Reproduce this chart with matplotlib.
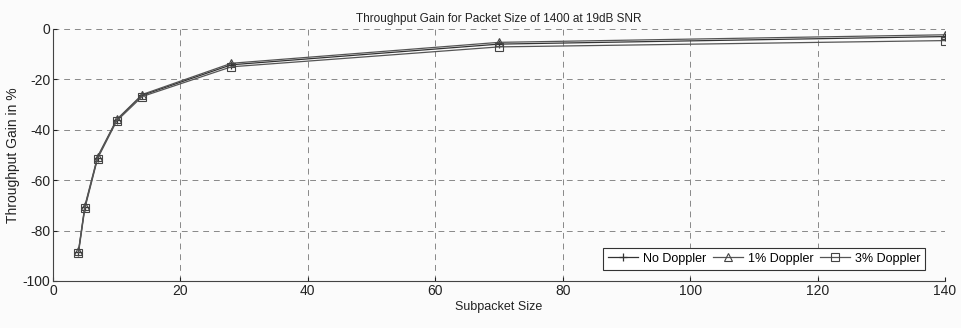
import matplotlib
matplotlib.use("Agg")
import matplotlib.pyplot as plt

plt.rcParams['font.family'] = ['Liberation Sans', 'DejaVu Sans']
plt.rcParams['axes.unicode_minus'] = False

subpacket = [4, 5, 7, 10, 14, 28, 70, 140]
no_doppler = [-88.3, -70.6, -51.0, -36.0, -26.3, -14.2, -6.0, -3.0]
doppler_1 = [-88.0, -70.2, -50.6, -35.9, -26.0, -13.6, -5.3, -2.3]
doppler_3 = [-88.9, -71.2, -51.4, -36.5, -26.8, -15.0, -7.1, -4.6]

title = "Throughput Gain for Packet Size of 1400 at 19dB SNR"
xlabel = "Subpacket Size"
ylabel = "Throughput Gain in %"
labels = ["No Doppler", "1% Doppler", "3% Doppler"]

fig = plt.figure(figsize=(9.62, 3.28), dpi=100, facecolor='#fbfbfb')
ax = fig.add_axes([0.0551, 0.1433, 0.9272, 0.7683])
ax.set_facecolor('#fbfbfb')

lc = '#333333'
ax.plot(subpacket, no_doppler, color=lc, lw=0.9, marker='+', ms=6, mew=0.9, label=labels[0])
ax.plot(subpacket, doppler_1, color='#555555', lw=0.9, marker='^', ms=6, mfc='none', mec='#444444', mew=0.8, label=labels[1])
ax.plot(subpacket, doppler_3, color='#555555', lw=0.9, marker='s', ms=6, mfc='none', mec='#444444', mew=0.8, label=labels[2])

ax.set_xlim(0, 140)
ax.set_ylim(-100, 0)
ax.set_xticks(range(0, 141, 20))
ax.set_yticks(range(-100, 1, 20))
ax.grid(True, linestyle=(0, (6, 5)), color='#888888', lw=0.7)
for s in ['top', 'right']:
    ax.spines[s].set_visible(False)
for s in ['left', 'bottom']:
    ax.spines[s].set_color('#444444')
    ax.spines[s].set_linewidth(0.8)
ax.tick_params(direction='in', length=3, labelsize=10, colors='#222222', pad=2)

ax.set_title(title, fontsize=8.5, pad=5, color='#222222')
ax.set_xlabel(xlabel, fontsize=9, labelpad=2, color='#222222')
ax.set_ylabel(ylabel, fontsize=10, labelpad=2, color='#222222')

leg = ax.legend(loc='lower right', ncol=3, fontsize=9, frameon=True, fancybox=False,
                edgecolor='#333333', framealpha=1, handlelength=2.4, columnspacing=0.5,
                handletextpad=0.4, borderpad=0.4, bbox_to_anchor=(0.985, 0.02))
leg.get_frame().set_linewidth(0.8)

fig.savefig("out.png", dpi=100, facecolor=fig.get_facecolor())
